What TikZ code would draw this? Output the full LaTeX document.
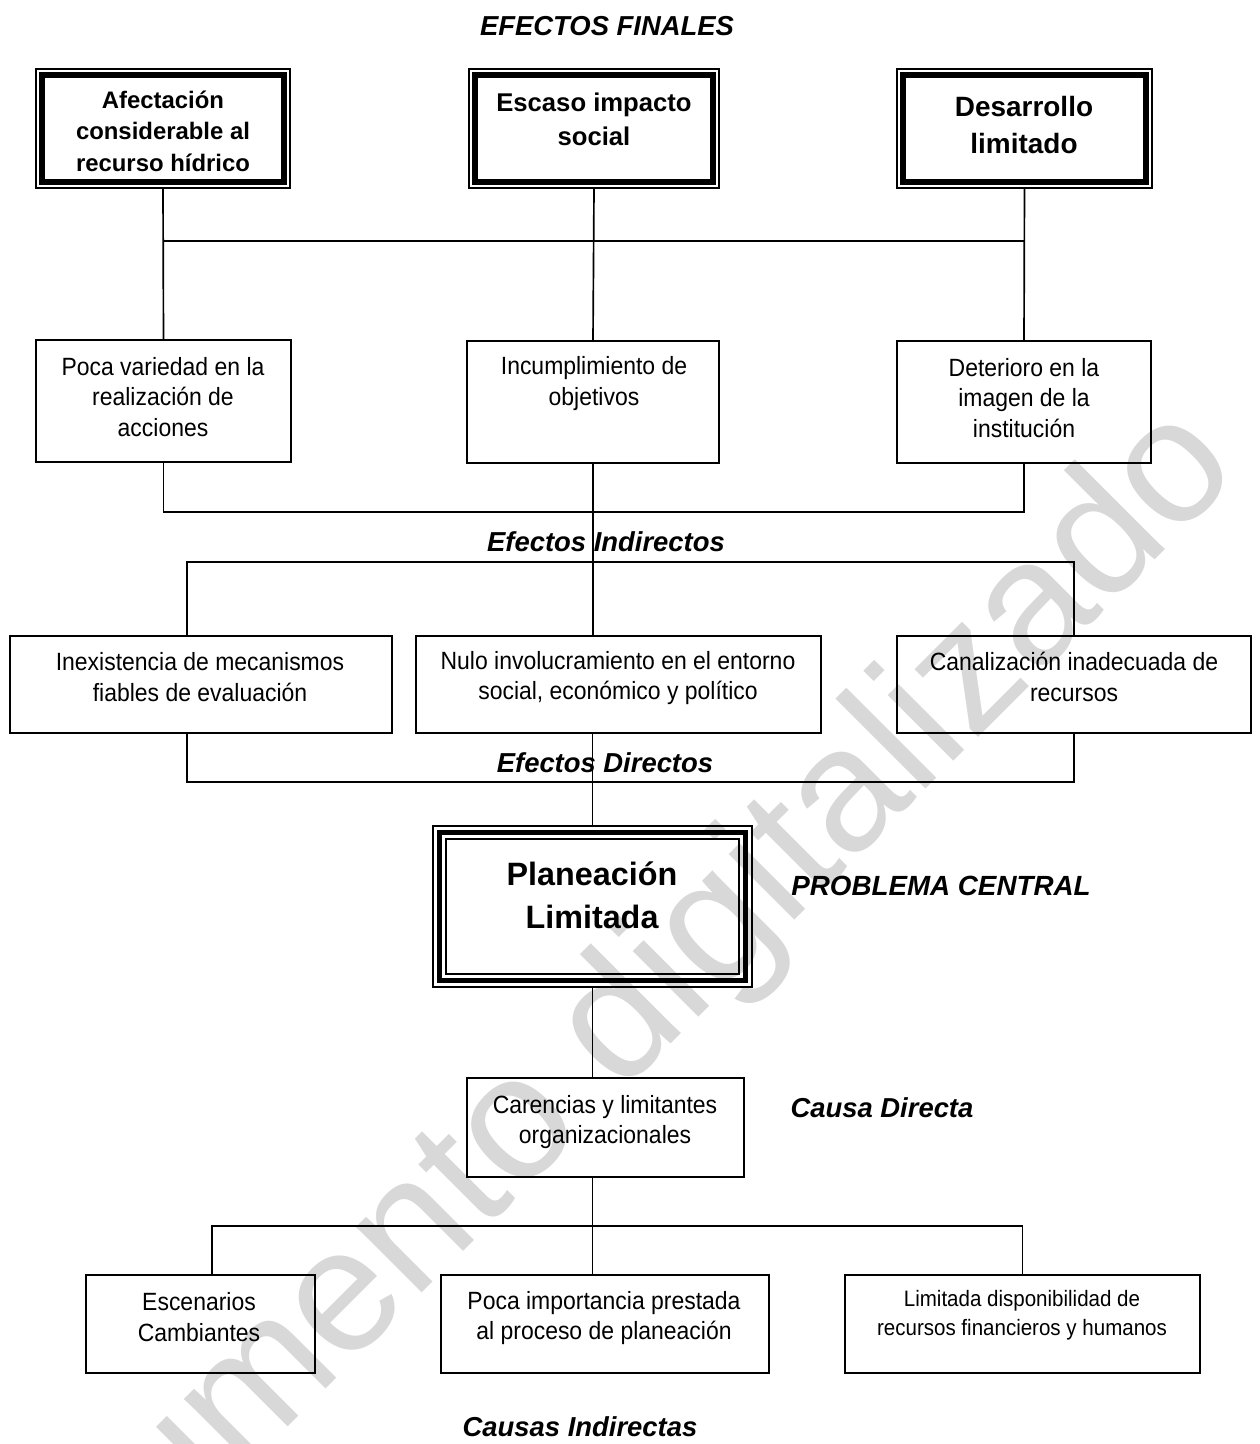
\documentclass[tikz,border=0pt]{standalone}
\usepackage{fontspec}
\setmainfont{Liberation Sans}
\newfontfamily\narrowfont[FakeStretch=0.92]{Liberation Sans}
\usetikzlibrary{fit}
\definecolor{wm}{RGB}{216,216,216}
\tikzset{
  conn/.style={line width=0.95pt},
  thinbox/.style={draw, line width=0.95pt, inner sep=0pt},
  heavy/.style={line width=3.1pt},
  plainframe/.style={line width=0.9pt},
  txt/.style={align=center, inner sep=0pt, font={\narrowfont\fontsize{14.2pt}{17.6pt}\selectfont}},
  smalltxt/.style={align=center, inner sep=0pt, font={\narrowfont\fontsize{12.7pt}{16.5pt}\selectfont}},
  boldtxt/.style 2 args={align=center, inner sep=0pt, font={\bfseries\fontsize{#1}{#2}\selectfont}},
  lbl/.style={inner sep=0pt, font={\bfseries\itshape\fontsize{15.6pt}{18pt}\selectfont}},
}
\begin{document}
\begin{tikzpicture}[x=0.02cm,y=-0.02cm]
\useasboundingbox (0,0) rectangle (1259,1444);
% watermark
\begin{scope}
\clip (0,0) rectangle (1259,1444);
\node[wm, rotate=45, anchor=base east, inner sep=0pt, font={\fontsize{100pt}{100pt}\selectfont}] (wmark) at (1243,472) {Documento digitalizado};
\end{scope}

% ---- top: final effects
\node[lbl] (tEF) at (607,26) {EFECTOS FINALES};

\node[thinbox, fit={(36,69) (290,188)}] (A) {};
\node[thinbox, fit={(469,69) (719,188)}] (B) {};
\node[thinbox, fit={(897,69) (1152,188)}] (C) {};
\foreach \n in {A,B,C}{
  \draw[heavy] ([shift={(7,7)}]\n.north west) rectangle ([shift={(-7,-7)}]\n.south east);
}
\node[boldtxt={13.6pt}{17.9pt}] (At) at (163,131) {Afectación\\considerable al\\recurso hídrico};
\node[boldtxt={14.6pt}{19.3pt}] (Bt) at (594,119) {Escaso impacto\\social};
\node[boldtxt={15.9pt}{21pt}] (Ct) at (1024,125) {Desarrollo\\limitado};

% ---- indirect effects
\node[thinbox, fit={(36,340) (291,462)}] (a) {};
\node[thinbox, fit={(467,341) (719,463)}] (b) {};
\node[thinbox, fit={(897,341) (1151,463)}] (c) {};
\node[txt] (at) at (163,397) {Poca variedad en la\\realización de\\acciones};
\node[txt] (bt) at (594,384) {Incumplimiento de\\objetivos};
\node[txt] (ct) at (1024,398) {Deterioro en la\\imagen de la\\institución};

\coordinate (j1) at (594,241);
\draw[conn] (A.south) -- (a.north);
\draw[conn] (B.south) -- (b.north);
\draw[conn] (C.south) -- (c.north);
\draw[conn] (A.south |- j1) -- (C.south |- j1);

\coordinate (j2) at (594,512);
\draw[conn] (a.south) |- (c.south |- j2) -- (c.south);

\node[lbl] (tEI) at (606,542) {Efectos Indirectos};

% ---- direct effects
\node[thinbox, fit={(10,636) (392,733)}] (d) {};
\node[thinbox, fit={(416,636) (821,733)}] (e) {};
\node[thinbox, fit={(897,636) (1251,733)}] (f) {};
\node[txt] (dt) at (200,677) {Inexistencia de mecanismos\\fiables de evaluación};
\node[txt] (et) at (618,678) {Nulo involucramiento en el entorno\\social, económico y político};
\node[txt] (ft) at (1074,677) {Canalización inadecuada de\\recursos};

\draw[conn] (b.south) -- (b.south |- e.north);
\coordinate (dj) at (187,562);
\draw[conn] (dj |- d.north) -- (dj) -- (f.north |- dj) -- (f.north);
\coordinate (dk) at (187,782);
\draw[conn] (dk |- d.south) -- (dk) -- (f.south |- dk) -- (f.south);

\node[lbl] (tED) at (605,763) {Efectos Directos};

% ---- central problem
\node[thinbox, line width=0.9pt, fit={(433,826) (752,987)}] (P) {};
\draw[heavy, line width=2.8pt] ([shift={(7.5,7.5)}]P.north west) rectangle ([shift={(-7.5,-7.5)}]P.south east);
\draw[plainframe] ([shift={(14,14)}]P.north west) rectangle ([shift={(-14,-14)}]P.south east);
\node[boldtxt={18.4pt}{24.5pt}] (Pt) at (592,895) {Planeación\\Limitada};
\node[lbl, font={\bfseries\itshape\fontsize{15.8pt}{18pt}\selectfont}] (tPC) at (941,886) {PROBLEMA CENTRAL};

\draw[conn] (P.north |- e.south) -- (P.north);

% ---- direct cause
\node[thinbox, fit={(467,1078) (744,1177)}] (K) {};
\node[txt] (Kt) at (605,1122) {Carencias y limitantes\\organizacionales};
\node[lbl] (tCD) at (882,1108) {Causa Directa};
\draw[conn] (P.south) -- (P.south |- K.north);

% ---- indirect causes
\node[thinbox, fit={(86,1275) (315,1373)}] (g) {};
\node[thinbox, fit={(441,1275) (769,1373)}] (h) {};
\node[thinbox, fit={(845,1275) (1200,1373)}] (i) {};
\node[txt] (gt) at (199,1317) {Escenarios\\Cambiantes};
\node[txt] (ht) at (604,1318) {Poca importancia prestada\\al proceso de planeación};
\node[smalltxt] (it) at (1022,1315) {Limitada disponibilidad de\\recursos financieros y humanos};

\draw[conn] (P.south |- K.south) -- (P.south |- h.north);
\coordinate (gj) at (212,1226);
\draw[conn] (gj |- g.north) -- (gj) -- (i.north |- gj) -- (i.north);

\node[lbl] (tCI) at (580,1427) {Causas Indirectas};
\end{tikzpicture}
\end{document}
